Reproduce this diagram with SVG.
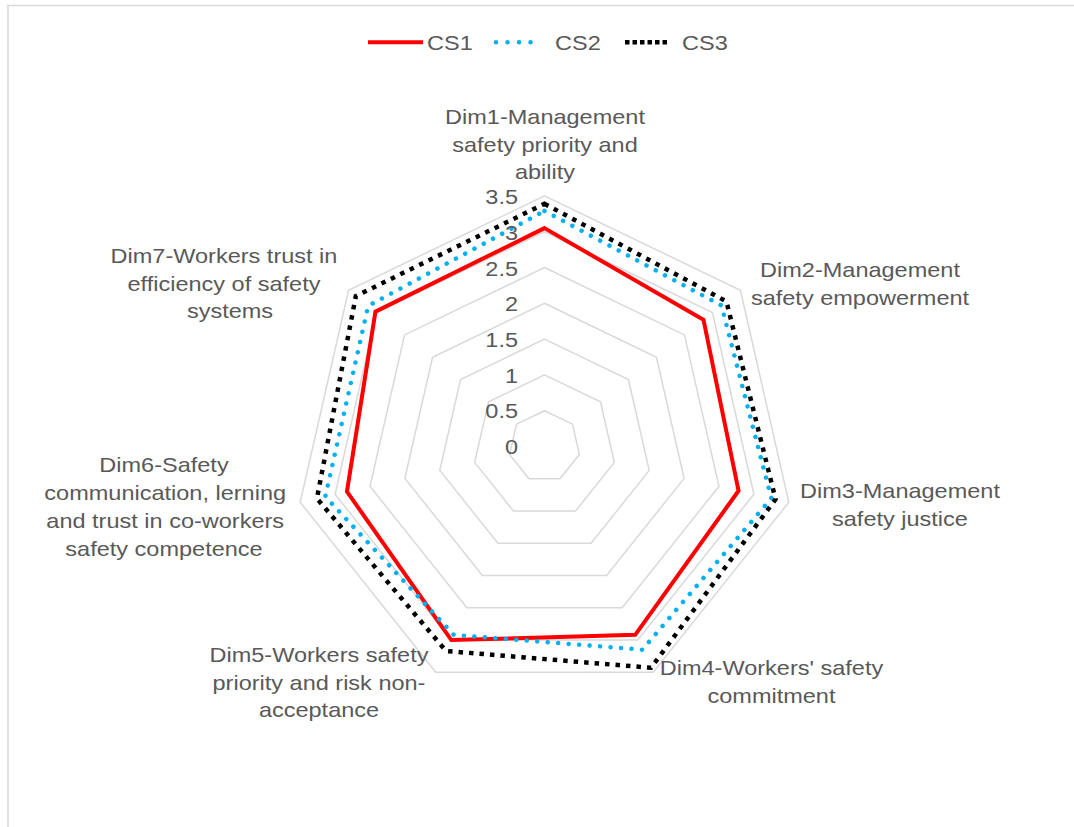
<svg xmlns="http://www.w3.org/2000/svg" width="1074" height="827" viewBox="0 0 1074 827">
<style>
text{font-family:"Liberation Sans",Arial,sans-serif;font-size:21px;fill:#595959}
.grid{fill:none;stroke:#d9d9d9;stroke-width:1.5}
.cs1{fill:none;stroke:#ff0000;stroke-width:4;stroke-linejoin:miter}
.cs2{fill:none;stroke:#00b0f0;stroke-width:4.5;stroke-linecap:round;stroke-dasharray:0.01 10.5}
.cs3{fill:none;stroke:#000000;stroke-width:4.5;stroke-dasharray:4.5 6}
.lab{text-anchor:middle}
.ax{text-anchor:end}
</style>
<rect width="1074" height="827" fill="#ffffff"/>
<g id="frame" stroke="#d9d9d9" stroke-width="1.5" fill="none">
<line x1="7" y1="5.5" x2="1074" y2="5.5"/>
<line x1="8" y1="5" x2="8" y2="827"/>
</g>
<g id="gridlines">
<polygon class="grid" points="544.5,410.7 572.49,424.18 579.40,454.47 560.03,478.75 528.97,478.75 509.60,454.47 516.51,424.18"/>
<polygon class="grid" points="544.5,374.9 600.48,401.86 614.31,462.43 575.57,511.01 513.43,511.01 474.69,462.43 488.52,401.86"/>
<polygon class="grid" points="544.5,339.1 628.47,379.54 649.21,470.40 591.10,543.26 497.90,543.26 439.79,470.40 460.53,379.54"/>
<polygon class="grid" points="544.5,303.3 656.46,357.22 684.11,478.36 606.63,575.52 482.37,575.52 404.89,478.36 432.54,357.22"/>
<polygon class="grid" points="544.5,267.5 684.45,334.90 719.01,486.33 622.16,607.77 466.84,607.77 370.0,486.33 404.55,334.90"/>
<polygon class="grid" points="544.5,231.7 712.44,312.57 753.91,494.30 637.70,640.03 451.30,640.03 335.09,494.30 376.56,312.57"/>
<polygon class="grid" points="544.5,195.9 740.43,290.25 788.82,502.26 653.23,672.28 435.77,672.28 300.18,502.26 348.57,290.25"/>
</g>
<g id="series">
<polygon id="series-cs1" class="cs1" points="544.5,228.12 703.48,319.72 738.56,490.79 635.21,634.87 451.30,640.03 346.95,491.59 375.44,311.68"/>
<polygon id="series-cs2" class="cs2" points="544.5,210.94 721.40,305.43 771.37,498.28 642.36,649.70 453.79,634.87 325.32,496.53 368.17,305.88"/>
<polygon id="series-cs3" class="cs3" points="544.5,203.78 726.43,301.41 775.56,499.24 651.06,667.77 446.02,651.0 316.93,498.44 355.85,296.06"/>
</g>
<g id="axis-values" transform="scale(1.12 1)">
<text class="ax" x="462.5" y="454">0</text>
<text class="ax" x="462.5" y="418.2">0.5</text>
<text class="ax" x="462.5" y="382.6">1</text>
<text class="ax" x="462.5" y="346.8">1.5</text>
<text class="ax" x="462.5" y="311.2">2</text>
<text class="ax" x="462.5" y="275.6">2.5</text>
<text class="ax" x="462.5" y="239.8">3</text>
<text class="ax" x="462.5" y="204.2">3.5</text>
</g>
<g id="dim1" transform="scale(1.12 1)">
<text class="lab" x="486.61" y="124">Dim1-Management</text>
<text class="lab" x="486.61" y="151.7">safety priority and</text>
<text class="lab" x="486.61" y="179.4">ability</text>
</g>
<g id="dim2" transform="scale(1.12 1)">
<text class="lab" x="767.86" y="277">Dim2-Management</text>
<text class="lab" x="767.86" y="304.7">safety empowerment</text>
</g>
<g id="dim3" transform="scale(1.12 1)">
<text class="lab" x="803.57" y="498">Dim3-Management</text>
<text class="lab" x="803.57" y="525.7">safety justice</text>
</g>
<g id="dim4" transform="scale(1.12 1)">
<text class="lab" x="688.84" y="675">Dim4-Workers' safety</text>
<text class="lab" x="688.84" y="702.7">commitment</text>
</g>
<g id="dim5" transform="scale(1.12 1)">
<text class="lab" x="284.82" y="662">Dim5-Workers safety</text>
<text class="lab" x="284.82" y="689.7">priority and risk non-</text>
<text class="lab" x="284.82" y="717.4">acceptance</text>
</g>
<g id="dim6" transform="scale(1.12 1)">
<text class="lab" x="146.43" y="472.5">Dim6-Safety</text>
<text class="lab" x="147.5" y="500.2">communication, lerning</text>
<text class="lab" x="147.5" y="527.9">and trust in co-workers</text>
<text class="lab" x="146.43" y="555.6">safety competence</text>
</g>
<g id="dim7" transform="scale(1.12 1)">
<text class="lab" x="200" y="263">Dim7-Workers trust in</text>
<text class="lab" x="200" y="290.7">efficiency of safety</text>
<text class="lab" x="205.36" y="318.4">systems</text>
</g>
<g id="legend">
<line x1="368" y1="42.3" x2="423" y2="42.3" stroke="#ff0000" stroke-width="4"/>
<line x1="496" y1="42.3" x2="542" y2="42.3" stroke="#00b0f0" stroke-width="4.5" stroke-linecap="round" stroke-dasharray="0.01 11.5"/>
<line x1="625" y1="42.3" x2="667" y2="42.3" stroke="#000000" stroke-width="4.5" stroke-dasharray="4.5 3"/>
<g transform="scale(1.12 1)">
<text x="381.25" y="50">CS1</text>
<text x="495.54" y="50">CS2</text>
<text x="608.93" y="50">CS3</text>
</g>
</g>
</svg>
